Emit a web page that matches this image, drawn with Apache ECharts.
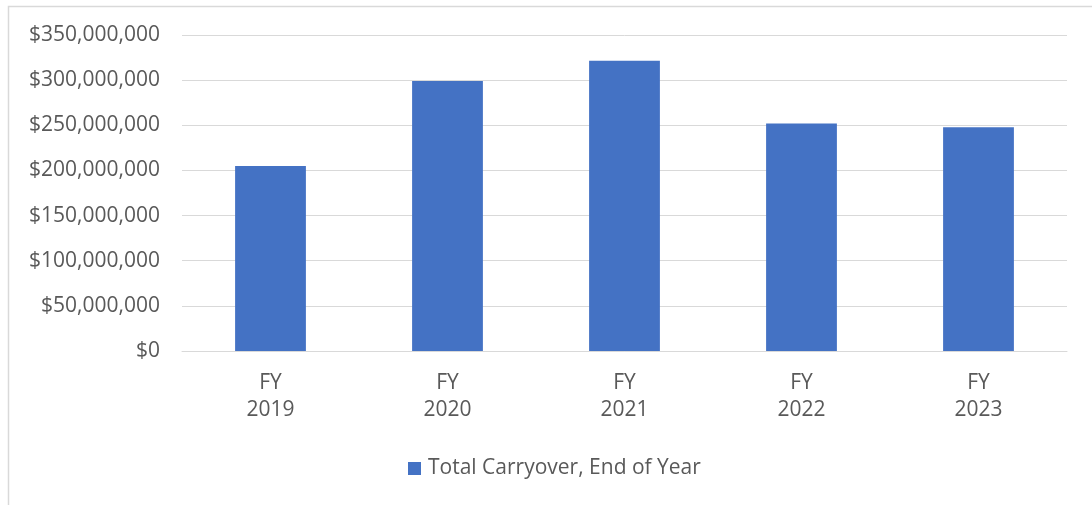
<!DOCTYPE html>
<html>
<head>
<meta charset="utf-8">
<script src="https://cdn.jsdelivr.net/npm/echarts@6/dist/echarts.min.js"></script>
<style>
html,body{margin:0;padding:0;background:#fff;}
#c{width:1092px;height:505px;}
</style>
</head>
<body>
<div id="c"></div>
<script>
const categories = ['FY\n2019', 'FY\n2020', 'FY\n2021', 'FY\n2022', 'FY\n2023'];
const seriesName = 'Total Carryover, End of Year';
const values = [205000000, 299000000, 321500000, 252000000, 247700000];
const yMin = 0, yMax = 350000000, yStep = 50000000;

const chart = echarts.init(document.getElementById('c'), null, {renderer: 'canvas'});
const font = '"Open Sans", "Noto Sans", sans-serif';
chart.setOption({
  animation: false,
  backgroundColor: '#fff',
  graphic: [{
    type: 'rect', silent: true,
    shape: {x: 8.5, y: 6.5, width: 1200, height: 600},
    style: {fill: 'none', stroke: '#d9d9d9', lineWidth: 1.5}
  }],
  grid: {left: 182, right: 25, top: 35, bottom: 154, containLabel: false},
  legend: {
    data: [seriesName],
    left: 403, top: 453,
    itemWidth: 13, itemHeight: 13, itemGap: 10,
    icon: 'rect',
    textStyle: {fontFamily: font, fontSize: 21, color: '#595959', padding: [0,0,0,2]}
  },
  xAxis: {
    type: 'category',
    data: categories,
    axisLine: {show: true, lineStyle: {color: '#d9d9d9', width: 1}},
    axisTick: {show: false},
    axisLabel: {fontFamily: font, fontSize: 21, color: '#595959', lineHeight: 27, margin: 19}
  },
  yAxis: {
    type: 'value',
    min: yMin, max: yMax, interval: yStep,
    axisLine: {show: false},
    axisTick: {show: false},
    splitLine: {lineStyle: {color: '#d9d9d9', width: 1}},
    axisLabel: {
      fontFamily: font, fontSize: 21, color: '#595959', margin: 22,
      formatter: v => '$' + v.toLocaleString('en-US')
    }
  },
  series: [{
    name: seriesName,
    type: 'bar',
    data: values,
    barCategoryGap: '60%',
    itemStyle: {color: '#4472c4'}
  }]
});
</script>
</body>
</html>
